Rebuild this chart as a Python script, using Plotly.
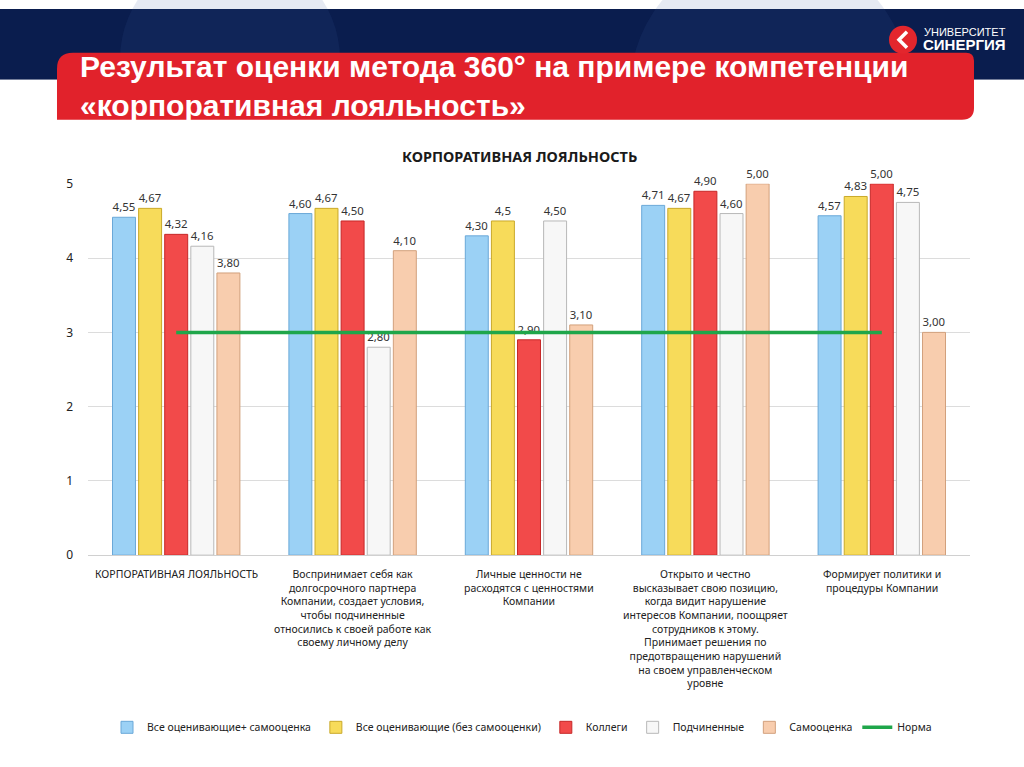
import plotly.graph_objects as go

W, H = 1024, 767

categories = [
    "КОРПОРАТИВНАЯ ЛОЯЛЬНОСТЬ",
    "Воспринимает себя как<br>долгосрочного партнера<br>Компании, создает условия,<br>чтобы подчиненные<br>относились к своей работе как<br>своему личному делу",
    "Личные ценности не<br>расходятся с ценностями<br>Компании",
    "Открыто и честно<br>высказывает свою позицию,<br>когда видит нарушение<br>интересов Компании, поощряет<br>сотрудников к этому.<br>Принимает решения по<br>предотвращению нарушений<br>на своем управленческом<br>уровне",
    "Формирует политики и<br>процедуры Компании",
]
cat_keys = ["c1", "c2", "c3", "c4", "c5"]

series_names = [
    "Все оценивающие+ самооценка",
    "Все оценивающие (без самооценки)",
    "Коллеги",
    "Подчиненные",
    "Самооценка",
]
all_with_self = [4.55, 4.60, 4.30, 4.71, 4.57]
all_no_self = [4.67, 4.67, 4.50, 4.67, 4.83]
colleagues = [4.32, 4.50, 2.90, 4.90, 5.00]
subordinates = [4.16, 2.80, 4.50, 4.60, 4.75]
self_eval = [3.80, 4.10, 3.10, 5.00, 3.00]
norm = [3, 3, 3, 3, 3]

all_with_self_labels = ["4,55", "4,60", "4,30", "4,71", "4,57"]
all_no_self_labels = ["4,67", "4,67", "4,5", "4,67", "4,83"]
colleagues_labels = ["4,32", "4,50", "2,90", "4,90", "5,00"]
subordinates_labels = ["4,16", "2,80", "4,50", "4,60", "4,75"]
self_eval_labels = ["3,80", "4,10", "3,10", "5,00", "3,00"]

y_ticks = [0, 1, 2, 3, 4, 5]

series_values = [all_with_self, all_no_self, colleagues, subordinates, self_eval]
series_labels = [all_with_self_labels, all_no_self_labels, colleagues_labels,
                 subordinates_labels, self_eval_labels]
fill_colors = ["#9BD1F5", "#F7DB5A", "#F24A4A", "#F7F7F7", "#F8CDAE"]
line_colors = ["#6AA8D8", "#C9A92A", "#C62828", "#B8B8B8", "#D2A07C"]

FONT = "Noto Sans"

# the captured page appears slightly squeezed vertically; map target pixel rows accordingly
Y_OFF, Y_SCALE = 9.3, 0.977


def px(x):
    return x / W


def py(y):
    yf = (y - Y_OFF) / Y_SCALE
    return 1 - yf / H


fig = go.Figure()

for name, vals, labs, fc, lc in zip(series_names, series_values, series_labels,
                                    fill_colors, line_colors):
    fig.add_trace(go.Bar(
        name=name, x=cat_keys, y=vals, text=labs,
        textposition="outside", cliponaxis=False,
        textfont=dict(family=FONT, size=11.5, color="#333333"),
        marker=dict(color=fc, line=dict(color=lc, width=1)),
        hoverinfo="skip",
    ))

fig.add_trace(go.Scatter(
    name="Норма", x=cat_keys, y=norm, mode="lines",
    line=dict(color="#1FA64A", width=3.5), hoverinfo="skip",
))


def P(x, y):
    return f"{px(x):.5f},{py(y):.5f}"


shapes = []
# navy header (drawn below plot layers)
shapes.append(dict(type="rect", xref="paper", yref="paper",
                   x0=0, x1=1, y0=py(80), y1=1, fillcolor="#0A1D4E",
                   line=dict(width=0), layer="below"))
# faint decorative arcs inside header
for cx, cy, r in [(230, 60, 110), (770, 90, 140)]:
    shapes.append(dict(type="circle", xref="paper", yref="paper",
                       x0=px(cx - r), x1=px(cx + r), y0=py(cy + r), y1=py(cy - r),
                       fillcolor="rgba(60,90,160,0.13)", line=dict(width=0),
                       layer="below"))
# white cover below header to clip circles (still under grid and bars)
shapes.append(dict(type="rect", xref="paper", yref="paper",
                   x0=0, x1=1, y0=py(240), y1=py(80), fillcolor="white",
                   line=dict(width=0), layer="below"))

# red banner with rounded corners
x0b, x1b, y0b, y1b = 57, 974, 53, 120
path = (f"M {P(x0b + 16, y0b)} L {P(x1b - 8, y0b)} Q {P(x1b, y0b)} {P(x1b, y0b + 8)} "
        f"L {P(x1b, y1b - 12)} Q {P(x1b, y1b)} {P(x1b - 12, y1b)} "
        f"L {P(x0b, y1b)} L {P(x0b, y0b + 16)} Q {P(x0b, y0b)} {P(x0b + 16, y0b)} Z")
shapes.append(dict(type="path", xref="paper", yref="paper", path=path,
                   fillcolor="#E1222B", line=dict(width=0), layer="above"))
# logo circle with white chevron
shapes.append(dict(type="circle", xref="paper", yref="paper",
                   x0=px(889), x1=px(917), y0=py(54), y1=py(26),
                   fillcolor="#E3262D", line=dict(width=0), layer="above"))
shapes.append(dict(type="path", xref="paper", yref="paper",
                   path=f"M {P(907, 32)} L {P(899, 40)} L {P(907, 48)}",
                   line=dict(color="white", width=3.5), layer="above"))

annotations = []
annotations.append(dict(text="<b>Результат оценки метода 360° на примере компетенции<br>«корпоративная лояльность»</b>",
                        xref="paper", yref="paper", x=px(78), y=py(86),
                        xanchor="left", yanchor="middle", align="left", showarrow=False,
                        font=dict(family="Liberation Sans", size=30, color="white")))
annotations.append(dict(text="УНИВЕРСИТЕТ", xref="paper", yref="paper", x=px(922), y=py(32),
                        xanchor="left", yanchor="middle", showarrow=False,
                        font=dict(family="Liberation Sans Narrow, Liberation Sans", size=11, color="white")))
annotations.append(dict(text="<b>СИНЕРГИЯ</b>", xref="paper", yref="paper", x=px(921), y=py(45),
                        xanchor="left", yanchor="middle", showarrow=False,
                        font=dict(family="Liberation Sans Narrow, Liberation Sans", size=15, color="white")))
annotations.append(dict(text="<b>КОРПОРАТИВНАЯ ЛОЯЛЬНОСТЬ</b>", xref="paper", yref="paper",
                        x=px(519), y=py(156), xanchor="center", yanchor="middle",
                        showarrow=False, font=dict(family=FONT, size=14.5, color="#1a1a1a")))
for k, lab in zip(cat_keys, categories):
    annotations.append(dict(text=lab, x=k, xref="x", y=py(565), yref="paper",
                            xanchor="center", yanchor="top", align="center",
                            showarrow=False,
                            font=dict(family=FONT, size=10.5, color="#222222")))

fig.update_layout(
    width=W, height=H,
    margin=dict(l=0, r=0, t=0, b=0),
    paper_bgcolor="white", plot_bgcolor="rgba(0,0,0,0)",
    barmode="group", bargap=0.26, bargroupgap=0.12,
    shapes=shapes, annotations=annotations,
    showlegend=True,
    legend=dict(orientation="h", x=px(522), y=py(727), xanchor="center", yanchor="middle",
                font=dict(family=FONT, size=10.5, color="#222222"),
                itemwidth=30, tracegroupgap=0, bgcolor="rgba(0,0,0,0)"),
    xaxis=dict(domain=[px(88), px(970)], showticklabels=False, showgrid=False,
               showline=True, linecolor="#D0D0D0", linewidth=1, ticks=""),
    yaxis=dict(domain=[py(555), py(184)], range=[0, 5], tickvals=y_ticks,
               showgrid=True, gridcolor="#DCDCDC", gridwidth=1, zeroline=False,
               ticks="", ticklabelstandoff=14,
               tickfont=dict(family=FONT, size=12, color="#222222")),
)

fig.write_html(
    "out.html",
    config={"displayModeBar": False, "responsive": False},
    post_script=(
        "document.documentElement.style.margin='0';"
        "document.documentElement.style.overflow='hidden';"
        "document.body.style.margin='0';document.body.style.overflow='hidden';"
        "var d=document.querySelector('.plotly-graph-div');"
        "d.style.position='fixed';d.style.top='0px';d.style.left='0px';"
    ),
)
